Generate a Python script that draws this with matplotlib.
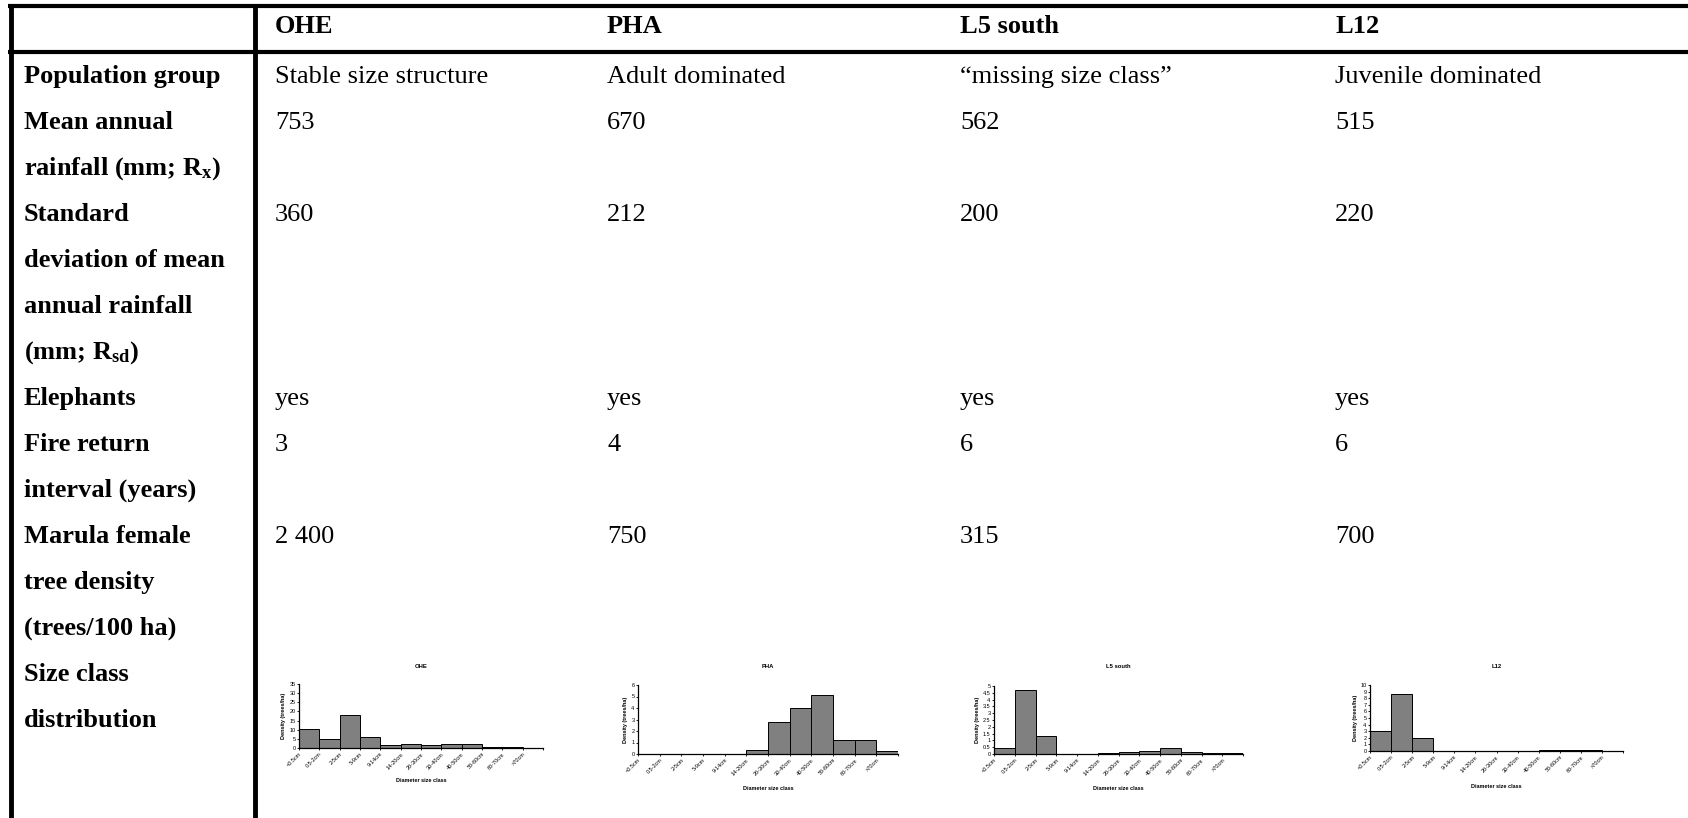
import matplotlib
matplotlib.use("Agg")
import matplotlib.pyplot as plt
import numpy as np

# table content
sites = ["OHE", "PHA", "L5 south", "L12"]
row_labels = [
    ["Population group"],
    ["Mean annual", r"rainfall (mm; R$_{\mathbf{x}}$)"],
    ["Standard", "deviation of mean", "annual rainfall", r"(mm; R$_{\mathbf{sd}}$)"],
    ["Elephants"],
    ["Fire return", "interval (years)"],
    ["Marula female", "tree density", "(trees/100 ha)"],
    ["Size class", "distribution"],
]
population_group = ["Stable size structure", "Adult dominated", "\u201cmissing size class\u201d", "Juvenile dominated"]
mean_rainfall = ["753", "670", "562", "515"]
sd_rainfall = ["360", "212", "200", "220"]
elephants = ["yes", "yes", "yes", "yes"]
fire_interval = ["3", "4", "6", "6"]
female_density = ["2 400", "750", "315", "700"]

# size class histograms (trees/ha)
size_classes = ["<0.5cm", "0.5-2cm", "2-5cm", "5-9cm", "9-14cm", "14-20cm", "20-30cm",
                "30-40cm", "40-50cm", "50-60cm", "60-70cm", ">70cm"]
ohe_density = [10.3, 5.0, 18.0, 6.2, 1.4, 2.1, 1.6, 2.4, 2.1, 0.7, 0.8, 0.2]
pha_density = [0, 0, 0, 0, 0, 0.38, 2.8, 4.0, 5.1, 1.25, 1.25, 0.3]
l5_density = [0.42, 4.68, 1.32, 0, 0, 0.05, 0.12, 0.24, 0.44, 0.12, 0.05, 0.05]
l12_density = [3.0, 8.7, 1.9, 0, 0, 0, 0, 0, 0.1, 0.15, 0.1, 0]
y_max = [35, 6, 5, 10]
y_step = [5, 1, 0.5, 1]

plt.rcParams["mathtext.fontset"] = "custom"
plt.rcParams["mathtext.rm"] = "Liberation Serif"
plt.rcParams["mathtext.bf"] = "Liberation Serif:bold"
plt.rcParams["mathtext.default"] = "bf"

W, H = 1688, 818
fig = plt.figure(figsize=(W / 100, H / 100), dpi=100)
ax = fig.add_axes([0, 0, 1, 1])
ax.set_xlim(0, W)
ax.set_ylim(H, 0)
ax.axis("off")

# table rules
lw = 3
ax.plot([8, W], [6, 6], color="black", lw=lw, solid_capstyle="butt")
ax.plot([8, W], [52, 52], color="black", lw=lw, solid_capstyle="butt")
ax.plot([10.5, 10.5], [4, H], color="black", lw=lw + 0.5, solid_capstyle="butt")
ax.plot([255, 255], [4, H], color="black", lw=lw + 0.5, solid_capstyle="butt")

col_x = [24, 275, 607, 960, 1335]
fs = 19
serif = "Liberation Serif"

for j, s in enumerate(sites):
    ax.text(col_x[j + 1], 33, s, fontsize=fs, family=serif, fontweight="bold", va="baseline")

cells = [population_group, mean_rainfall, sd_rainfall, elephants, fire_interval, female_density]
line_h = 46
base = 83
line = 0
for r, lines in enumerate(row_labels):
    for k, t in enumerate(lines):
        ax.text(col_x[0], base + (line + k) * line_h, t, fontsize=fs, family=serif,
                fontweight="bold", va="baseline")
    if r < len(cells):
        for j in range(4):
            ax.text(col_x[j + 1], base + line * line_h, cells[r][j], fontsize=fs,
                    family=serif, va="baseline")
    line += len(lines)

# histogram insets: (left, right, top, bottom, title_y, xlabel_y) in pixels
boxes = [(299, 543, 684, 748, 665, 780),
         (638, 898, 685, 754, 665, 789),
         (994, 1243, 686, 754, 665, 788),
         (1370, 1623, 685, 751, 665, 786)]
series = [ohe_density, pha_density, l5_density, l12_density]
sfs = 4.0
for k, (l, r, t, b, ty, xy) in enumerate(boxes):
    hax = fig.add_axes([l / W, 1 - b / H, (r - l) / W, (b - t) / H])
    x = np.arange(len(size_classes))
    hax.bar(x, series[k], width=1, align="edge", color="#808080",
            edgecolor="black", linewidth=0.7)
    hax.set_xlim(0, len(size_classes))
    hax.set_ylim(0, y_max[k])
    ticks = np.arange(0, y_max[k] + y_step[k] / 2, y_step[k])
    hax.set_yticks(ticks)
    hax.set_yticklabels([f"{v:g}" for v in ticks], fontsize=sfs, family="Liberation Sans")
    hax.set_xticks(np.arange(len(size_classes) + 1))
    hax.set_xticklabels(size_classes + [""], fontsize=sfs, family="Liberation Sans",
                        rotation=45, ha="right", rotation_mode="anchor")
    hax.tick_params(length=1.5, width=0.6, pad=1)
    for sp in ["top", "right"]:
        hax.spines[sp].set_visible(False)
    for sp in ["left", "bottom"]:
        hax.spines[sp].set_linewidth(0.9)
    hax.patch.set_alpha(0)
    hax.set_title(sites[k], fontsize=4.2, family="Liberation Sans", fontweight="bold",
                  pad=(t - ty) * 0.72 - 2)
    hax.set_ylabel("Density (trees/ha)", fontsize=sfs, family="Liberation Sans",
                   fontweight="bold", labelpad=2)
    hax.set_xlabel("Diameter size class", fontsize=sfs, family="Liberation Sans",
                   fontweight="bold")
    hax.xaxis.set_label_coords(0.5, -(xy - b) / (b - t), transform=hax.transAxes)
    hax.xaxis.label.set_va("center")

fig.savefig("out.png", dpi=100)
